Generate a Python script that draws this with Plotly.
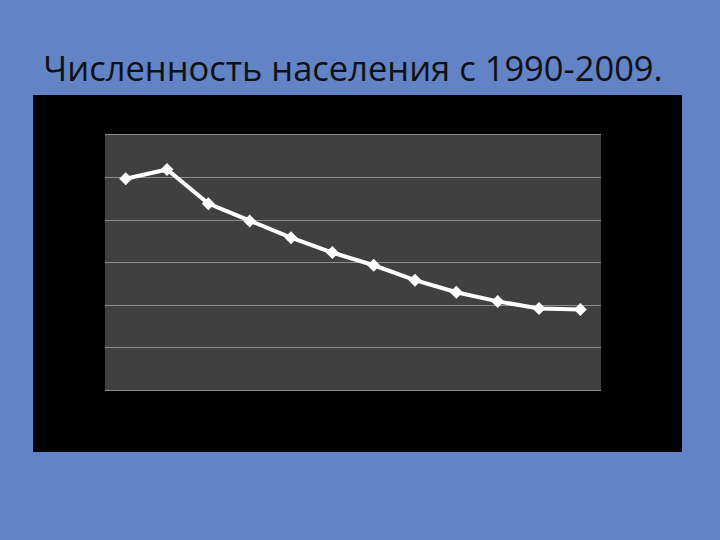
import plotly.graph_objects as go

years = ["1990", "1995", "2000", "2001", "2002", "2003", "2004", "2005", "2006", "2007", "2008", "2009"]
population = [994, 1038, 877, 795, 717, 647, 587, 517, 460, 417, 384, 379]
y_ticks = [0, 200, 400, 600, 800, 1000, 1200]

W, H = 720, 540
L, R, T, B = 105, 601, 135, 390

def px_x(x):
    return (x - L) / (R - L)

def px_y(y):
    return (B - y) / (B - T)

fig = go.Figure()
fig.add_trace(go.Scatter(
    x=years, y=population, mode="lines+markers",
    line=dict(color="white", width=4),
    marker=dict(symbol="diamond", size=10, color="white"),
    showlegend=False, hoverinfo="x+y",
))

# black chart frame
fig.add_shape(type="rect", xref="paper", yref="paper",
              x0=px_x(33), x1=px_x(682), y0=px_y(452), y1=px_y(95),
              fillcolor="black", line=dict(width=0), layer="below")
# dark plot area
fig.add_shape(type="rect", xref="paper", yref="paper",
              x0=0, x1=1, y0=0, y1=1,
              fillcolor="#404040", line=dict(width=0), layer="below")

fig.update_layout(
    width=W, height=H,
    margin=dict(l=L, r=W - R, t=T, b=H - B, pad=0),
    paper_bgcolor="#6283c6",
    plot_bgcolor="#404040",
    title=dict(text="Численность населения с 1990-2009.",
               x=0.5, xref="paper", xanchor="center",
               y=1 - 69 / H, yref="container", yanchor="middle",
               font=dict(family="Open Sans", size=34.5, color="#111111")),
    xaxis=dict(type="category", range=[-0.5, len(years) - 0.5],
               showticklabels=False, showgrid=False, zeroline=False,
               showline=True, linecolor="#8c8c8c", linewidth=1, mirror=True,
               ticks=""),
    yaxis=dict(range=[0, 1200], tickvals=y_ticks, showticklabels=False,
               showgrid=True, gridcolor="#8c8c8c", gridwidth=1,
               zeroline=False, showline=False, ticks=""),
)

fig.write_html("out.html", config={"displayModeBar": False},
               post_script="document.body.style.margin='0';")
